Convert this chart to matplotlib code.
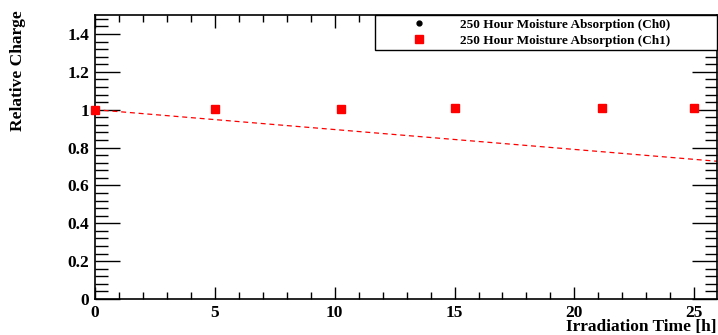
import numpy as np
import matplotlib
matplotlib.use("Agg")
import matplotlib.pyplot as plt
from matplotlib.ticker import MultipleLocator, FuncFormatter

# Measured relative charge versus irradiation time
time_h = [0.0, 5.0, 10.27, 15.03, 21.16, 25.0]
charge_ch0 = [1.000, 1.003, 1.004, 1.007, 1.008, 1.008]
charge_ch1 = [1.000, 1.003, 1.004, 1.007, 1.008, 1.008]

# Linear fit to the expected charge loss
fit_intercept = 1.0
fit_slope = -0.0105

labels = ["250 Hour Moisture Absorption (Ch0)", "250 Hour Moisture Absorption (Ch1)"]

plt.rcParams["font.family"] = ["Liberation Serif", "DejaVu Serif"]
plt.rcParams["font.weight"] = "bold"

fig = plt.figure(figsize=(7.18, 3.35), dpi=100)
ax = fig.add_axes([95 / 718, 1 - 299 / 335, 622 / 718, 284 / 335])

xmin, xmax = 0.0, 25.95
ax.set_xlim(xmin, xmax)
ax.set_ylim(0, 1.5)

xs = np.linspace(xmin, xmax, 200)
ax.plot(xs, fit_intercept + fit_slope * xs, color="red", ls=(0, (4, 3)), lw=0.9, zorder=2)

h0, = ax.plot(time_h, charge_ch0, "o", color="black", ms=3.5, zorder=3, clip_on=False)
h1, = ax.plot(time_h, charge_ch1, "s", color="red", ms=6, mec="red", zorder=4, clip_on=False)

ax.xaxis.set_major_locator(MultipleLocator(5))
ax.xaxis.set_minor_locator(MultipleLocator(1))
ax.yaxis.set_major_locator(MultipleLocator(0.2))
ax.yaxis.set_minor_locator(MultipleLocator(0.04))

def fmt(v, _):
    s = f"{v:.1f}"
    return s[:-2] if s.endswith(".0") else s

ax.yaxis.set_major_formatter(FuncFormatter(fmt))
ax.xaxis.set_major_formatter(FuncFormatter(fmt))

ax.tick_params(axis="both", which="both", direction="in", top=True, right=True,
               labelsize=12.5, width=1.0, color="black")
ax.tick_params(axis="y", which="major", length=18, pad=4)
ax.tick_params(axis="y", which="minor", length=9)
ax.tick_params(axis="x", which="major", length=9, pad=4)
ax.tick_params(axis="x", which="minor", length=5)
for lab in ax.get_xticklabels() + ax.get_yticklabels():
    lab.set_fontweight("bold")
for sp in ax.spines.values():
    sp.set_linewidth(1.2)

fig.text(18 / 718, 1 - 10 / 335, "Relative Charge", rotation=90, ha="center", va="top",
         fontsize=12.5, fontweight="bold")
fig.text(716 / 718, 1 - 331 / 335, "Irradiation Time [h]", ha="right", va="baseline",
         fontsize=12.5, fontweight="bold")

leg_left = (375 - 95) / 622
leg_h = 36 / 284
leg = ax.legend([h0, h1], labels, loc="upper left",
                bbox_to_anchor=(leg_left, 1.0 - leg_h, 1.0 - leg_left, leg_h),
                mode="expand", bbox_transform=ax.transAxes, frameon=True, fancybox=False,
                prop={"size": 9.5, "weight": "bold"}, borderpad=0.25, labelspacing=0.3,
                handletextpad=0.1, borderaxespad=0.0, handlelength=6.1, markerscale=1.0)
leg.get_frame().set_edgecolor("black")
leg.get_frame().set_linewidth(1.0)
leg.get_frame().set_alpha(1.0)

fig.savefig("out.png", dpi=100)
